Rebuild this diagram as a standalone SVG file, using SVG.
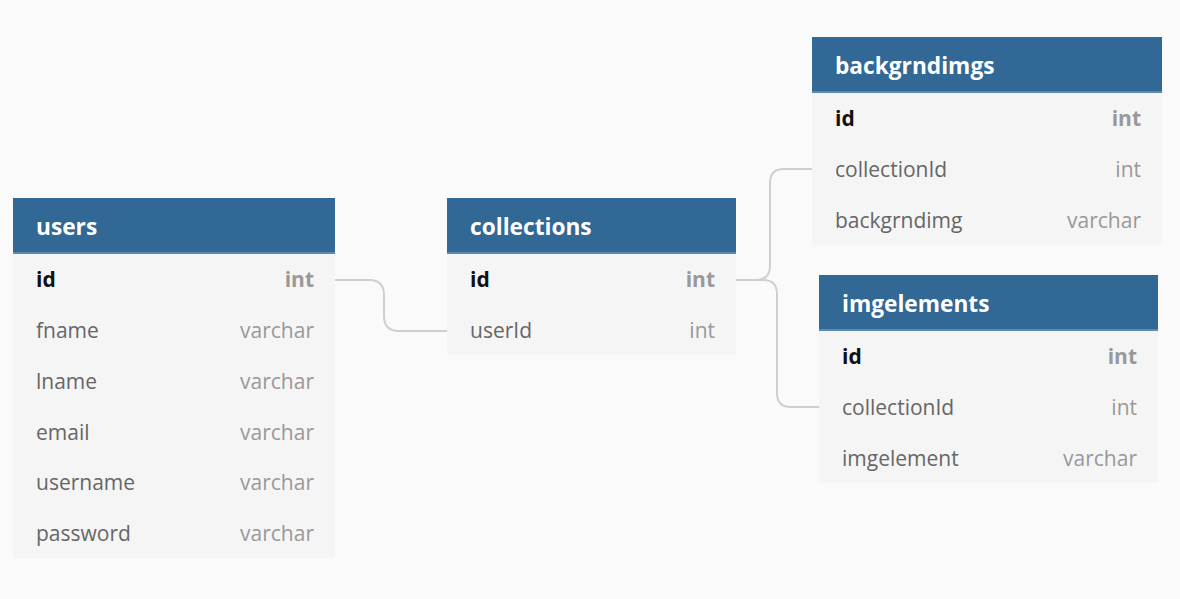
<svg xmlns="http://www.w3.org/2000/svg" width="1180" height="599" viewBox="0 0 1180 599">
<style>
.bg{fill:#fafafa}
.body{fill:#f5f5f5}
.hdr{fill:#316896}
.hline{fill:#5b8ab3}
.title{font-family:"Open Sans",sans-serif;font-weight:bold;font-size:22.7px;fill:#ffffff}
.f{font-family:"Open Sans",sans-serif;font-size:21px;fill:#666666}
.t{font-family:"Open Sans",sans-serif;font-size:21px;fill:#999999;text-anchor:end}
.pk{font-weight:bold;fill:#111111}
.pkt{font-weight:bold;fill:#999999}
.conn{fill:none;stroke:#cfcfcf;stroke-width:2}
</style>
<rect class="bg" x="0" y="0" width="1180" height="599"/>
<g id="connectors">
<path class="conn" d="M335,280 H369 Q384,280 384,295 V316 Q384,331 399,331 H447"/>
<path class="conn" d="M736,280 H756 Q770,280 770,266 V183 Q770,169 784,169 H812"/>
<path class="conn" d="M736,280 H763 Q777,280 777,294 V393 Q777,407 791,407 H819"/>
</g>
<g id="users">
<rect class="body" x="13" y="198" width="322" height="360"/>
<rect class="hdr" x="13" y="198" width="322" height="56"/>
<rect class="hline" x="13" y="252" width="322" height="2"/>
<text class="title" x="36" y="235">users</text>
<text class="f pk" x="36" y="287">id</text><text class="t pkt" x="314" y="287">int</text>
<text class="f" x="36" y="338">fname</text><text class="t" x="314" y="338">varchar</text>
<text class="f" x="36" y="389">lname</text><text class="t" x="314" y="389">varchar</text>
<text class="f" x="36" y="440">email</text><text class="t" x="314" y="440">varchar</text>
<text class="f" x="36" y="490">username</text><text class="t" x="314" y="490">varchar</text>
<text class="f" x="36" y="541">password</text><text class="t" x="314" y="541">varchar</text>
</g>
<g id="collections">
<rect class="body" x="447" y="198" width="289" height="157"/>
<rect class="hdr" x="447" y="198" width="289" height="56"/>
<rect class="hline" x="447" y="252" width="289" height="2"/>
<text class="title" x="470" y="235">collections</text>
<text class="f pk" x="470" y="287">id</text><text class="t pkt" x="715" y="287">int</text>
<text class="f" x="470" y="338">userId</text><text class="t" x="715" y="338">int</text>
</g>
<g id="backgrndimgs">
<rect class="body" x="812" y="37" width="350" height="208"/>
<rect class="hdr" x="812" y="37" width="350" height="56"/>
<rect class="hline" x="812" y="91" width="350" height="2"/>
<text class="title" x="835" y="74">backgrndimgs</text>
<text class="f pk" x="835" y="126">id</text><text class="t pkt" x="1141" y="126">int</text>
<text class="f" x="835" y="177">collectionId</text><text class="t" x="1141" y="177">int</text>
<text class="f" x="835" y="228">backgrndimg</text><text class="t" x="1141" y="228">varchar</text>
</g>
<g id="imgelements">
<rect class="body" x="819" y="275" width="339" height="208"/>
<rect class="hdr" x="819" y="275" width="339" height="56"/>
<rect class="hline" x="819" y="329" width="339" height="2"/>
<text class="title" x="842" y="312">imgelements</text>
<text class="f pk" x="842" y="364">id</text><text class="t pkt" x="1137" y="364">int</text>
<text class="f" x="842" y="415">collectionId</text><text class="t" x="1137" y="415">int</text>
<text class="f" x="842" y="466">imgelement</text><text class="t" x="1137" y="466">varchar</text>
</g>
</svg>
